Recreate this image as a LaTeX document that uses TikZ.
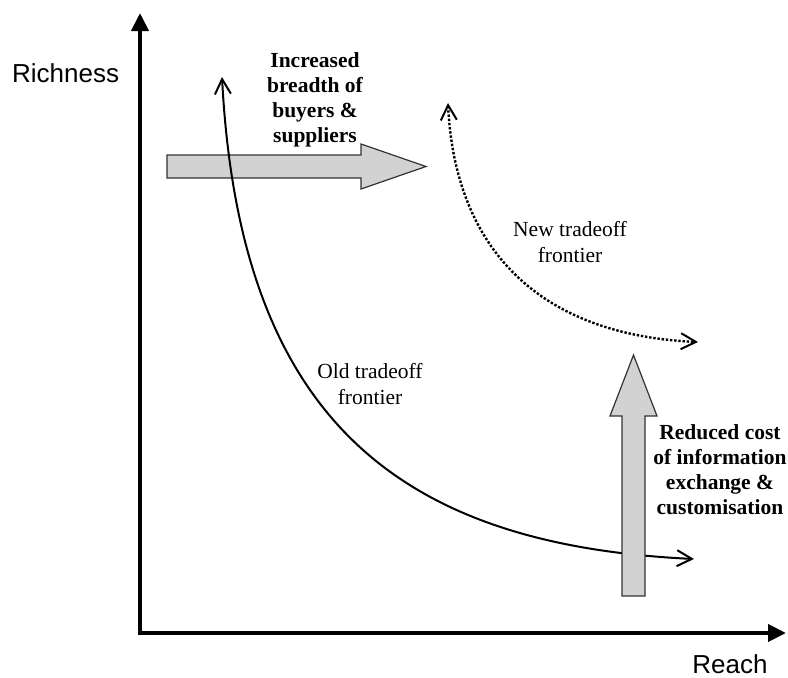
\documentclass[tikz,border=0pt]{standalone}
\usepackage{fontspec}
\setmainfont{Liberation Serif}
\newfontfamily\axisfont{Liberation Sans}
\usetikzlibrary{arrows.meta}
\definecolor{blockfill}{RGB}{210,210,210}
\definecolor{blockline}{RGB}{50,50,50}
\tikzset{
  axisline/.style={line width=4pt, -{Triangle[length=18pt,width=17pt]}},
  axislabel/.style={font=\axisfont\fontsize{26}{30}\selectfont, inner sep=0pt},
  frontier/.style={line width=2pt, {Straight Barb[length=15pt,width=16pt,line width=2pt]}-{Straight Barb[length=15pt,width=16pt,line width=2pt]}},
  newfrontier/.style={frontier, line width=2.4pt, dash pattern=on 2.4pt off 1.8pt},
  curvelabel/.style={font=\fontsize{21.5}{26}\selectfont, align=center, inner sep=0pt},
  boldlabel/.style={font=\bfseries\fontsize{21.5}{25}\selectfont, align=center, inner sep=0pt},
  blockarrow/.style={fill=blockfill, draw=blockline, line width=1.2pt, line join=miter}
}
\begin{document}
\begin{tikzpicture}[x=1pt,y=-1pt]
\useasboundingbox (0,0) rectangle (788,678);
% axes
\coordinate (origin) at (140,633);
\coordinate (ytip) at (140,13);
\coordinate (xtip) at (786,633);
\draw[axisline] ([yshift=-2pt]origin) -- (ytip);
\draw[axisline] ([xshift=-2pt]origin) -- (xtip);
\node[axislabel, anchor=base west] (richness) at (12,82) {Richness};
\node[axislabel, anchor=base] (reach) at (730,673) {Reach};
% horizontal block arrow
\draw[blockarrow] (167,155) -- (361,155) -- (361,144) -- (426,166.5) -- (361,189) -- (361,178) -- (167,178) -- cycle;
% old frontier
\coordinate (oldtop) at (222,77);
\coordinate (oldend) at (694,559);
\draw[frontier] (oldtop) .. controls (240,420) and (400,545) .. (oldend);
% vertical block arrow
\draw[blockarrow] (622,596) -- (622,416) -- (610,416) -- (633.5,355) -- (657,416) -- (645,416) -- (645,596) -- cycle;
% new frontier
\coordinate (newtop) at (448,103);
\coordinate (newend) at (698,342);
\draw[newfrontier] (newtop) .. controls (455,250) and (540,335) .. (newend);
% labels
\node[boldlabel] (breadth) at (315,100) {Increased\\breadth of\\buyers \&\\suppliers};
\node[boldlabel] (cost) at (720,470) {Reduced cost\\of information\\exchange \&\\customisation};
\node[curvelabel] (newlab) at (570,242) {New tradeoff\\frontier};
\node[curvelabel] (oldlab) at (370,384) {Old tradeoff\\frontier};
\end{tikzpicture}
\end{document}
